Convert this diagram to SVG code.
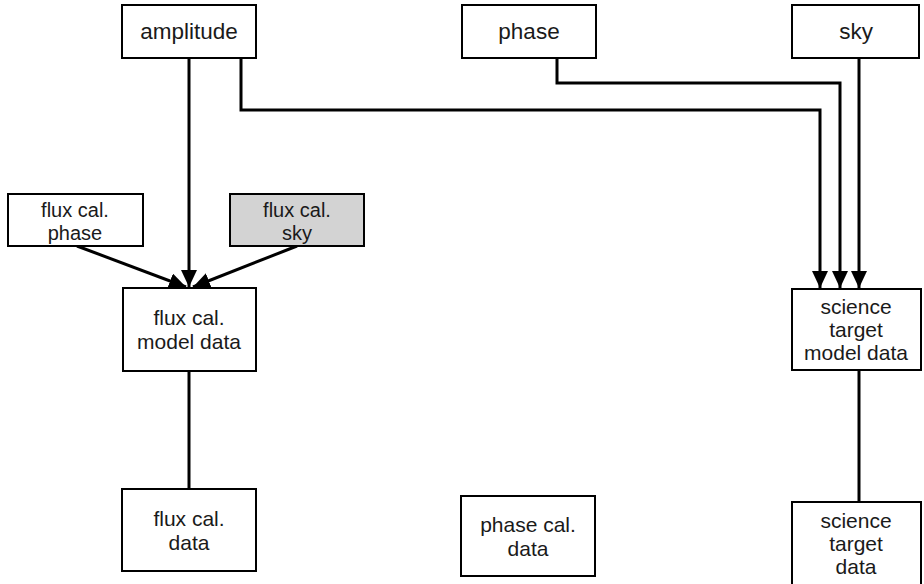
<svg xmlns="http://www.w3.org/2000/svg" width="924" height="584" viewBox="0 0 924 584">
<style>
.box{fill:#fff;stroke:#000;stroke-width:2}
.gray{fill:#d3d3d3}
text{font-family:"Liberation Sans",Arial,sans-serif;font-size:21px;fill:#1a1a1a;text-anchor:middle}
.sm{font-size:20px}
.big{font-size:22.5px}
.edge{fill:none;stroke:#000;stroke-width:3}
</style>
<defs>
<marker id="ah" markerUnits="userSpaceOnUse" markerWidth="18" markerHeight="16" refX="17" refY="8" orient="auto">
<path d="M0,0 L17,8 L0,16 z" fill="#000"/>
</marker>
</defs>
<g id="connectors">
<line class="edge" x1="189" y1="58" x2="189" y2="287" marker-end="url(#ah)"/>
<line class="edge" x1="77" y1="246" x2="186" y2="287" marker-end="url(#ah)"/>
<line class="edge" x1="297" y1="246" x2="193" y2="287" marker-end="url(#ah)"/>
<polyline class="edge" points="241,58 241,110 820,110 820,288" marker-end="url(#ah)"/>
<polyline class="edge" points="557,58 557,83 840,83 840,288" marker-end="url(#ah)"/>
<line class="edge" x1="859" y1="58" x2="859" y2="288" marker-end="url(#ah)"/>
<line class="edge" x1="189" y1="371" x2="189" y2="489"/>
<line class="edge" x1="859" y1="370" x2="859" y2="502"/>
<line x1="203" y1="57" x2="227" y2="57" stroke="#000" stroke-width="3"/>
</g>
<g id="amplitude"><rect class="box" x="122" y="5" width="134" height="53"/><text class="big" x="189" y="39">amplitude</text></g>
<g id="phase"><rect class="box" x="462" y="5" width="134" height="53"/><text class="big" x="529" y="39">phase</text></g>
<g id="sky"><rect class="box" x="792" y="5" width="127" height="53"/><text class="big" x="856" y="39">sky</text></g>
<g id="fluxcal_phase"><rect class="box" x="8" y="194" width="135" height="52"/><text class="sm" x="75" y="217">flux cal.</text><text class="sm" x="75" y="240">phase</text></g>
<g id="fluxcal_sky"><rect class="box gray" x="230" y="194" width="134" height="52"/><text class="sm" x="297" y="217">flux cal.</text><text class="sm" x="297" y="240">sky</text></g>
<g id="fluxcal_model"><rect class="box" x="123" y="288" width="133" height="83"/><text x="189" y="325">flux cal.</text><text x="189" y="349">model data</text></g>
<g id="science_model"><rect class="box" x="792" y="289" width="129" height="81"/><text x="856" y="314">science</text><text x="856" y="337">target</text><text x="856" y="360">model data</text></g>
<g id="fluxcal_data"><rect class="box" x="122" y="489" width="134" height="82"/><text x="189" y="526">flux cal.</text><text x="189" y="550">data</text></g>
<g id="phasecal_data"><rect class="box" x="461" y="496" width="134" height="80"/><text x="528" y="532">phase cal.</text><text x="528" y="556">data</text></g>
<g id="science_data"><rect class="box" x="792" y="502" width="129" height="84"/><text x="856" y="528">science</text><text x="856" y="551">target</text><text x="856" y="574">data</text></g>
</svg>
